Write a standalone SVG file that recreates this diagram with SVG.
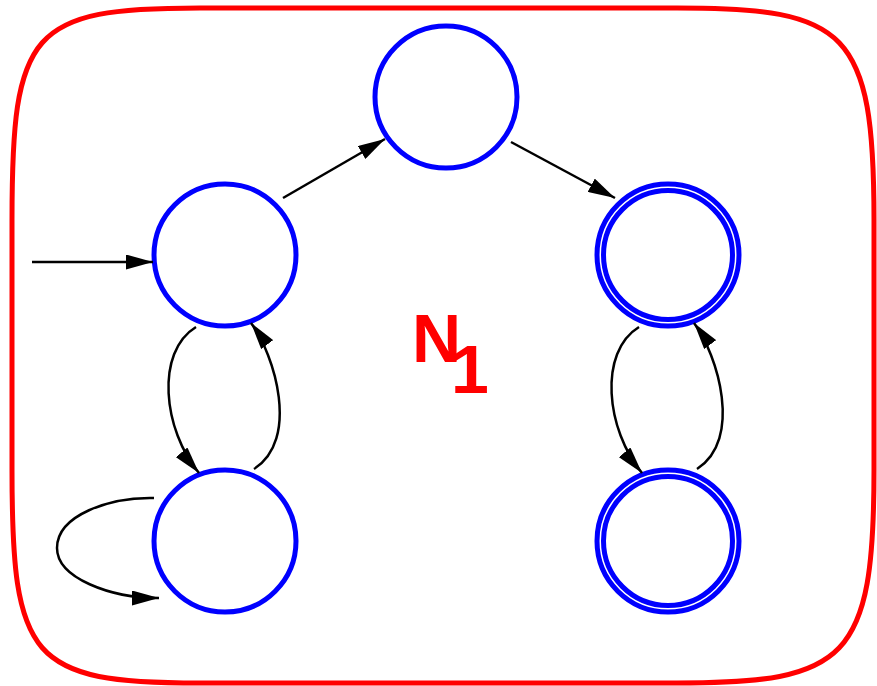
<svg xmlns="http://www.w3.org/2000/svg" width="877" height="686" viewBox="0 0 877 686">
<style>
.state{fill:none;stroke:#0000ff;stroke-width:5}
.edge{fill:none;stroke:#000;stroke-width:2.5;marker-end:url(#ah)}
.frame{fill:none;stroke:#ff0000;stroke-width:5}
.lbl{fill:#ff0000}
</style>
<defs>
<marker id="ah" viewBox="0 0 27 15" markerWidth="27" markerHeight="15" refX="27" refY="7.5" orient="auto" markerUnits="userSpaceOnUse">
<path d="M0,0 L27,7.5 L0,15 z" fill="#000"/>
</marker>
</defs>
<g id="frame">
<path class="frame" d="M12,220 C12,30 30,8 200,8 L677,8 C847,8 874,30 874,220 L874,470 C874,660 847,683 677,683 L200,683 C30,683 12,660 12,470 Z"/>
</g>
<g id="label">
<text class="lbl" x="412" y="362" font-size="68" font-family="'Liberation Sans'" font-weight="bold">N</text>
<text class="lbl" x="451" y="393" font-size="68" font-family="'Liberation Sans'" font-weight="bold">1</text>
</g>
<g id="q_top"><circle class="state" cx="446" cy="97" r="71"/></g>
<g id="q_left_mid"><circle class="state" cx="225" cy="255" r="71"/></g>
<g id="q_left_bot"><circle class="state" cx="225" cy="541" r="71"/></g>
<g id="q_right_mid"><circle class="state" cx="668" cy="255" r="71"/><circle class="state" cx="668" cy="255" r="64.5"/></g>
<g id="q_right_bot"><circle class="state" cx="668" cy="541" r="71"/><circle class="state" cx="668" cy="541" r="64.5"/></g>
<g id="connectors">
<path class="edge" d="M32,262 L153,262"/>
<path class="edge" d="M283,198 L385,139"/>
<path class="edge" d="M511,142 L615,198"/>
<path class="edge" d="M196,327 C155,352 163,430 199,473"/>
<path class="edge" d="M254,469 C300,440 275,355 251,323"/>
<path class="edge" d="M154,498 C110,497 57,515 57,548 C57,578 110,598 159,598"/>
<path class="edge" d="M639,327 C598,352 606,430 642,473"/>
<path class="edge" d="M697,469 C743,440 718,355 694,323"/>
</g>
</svg>
